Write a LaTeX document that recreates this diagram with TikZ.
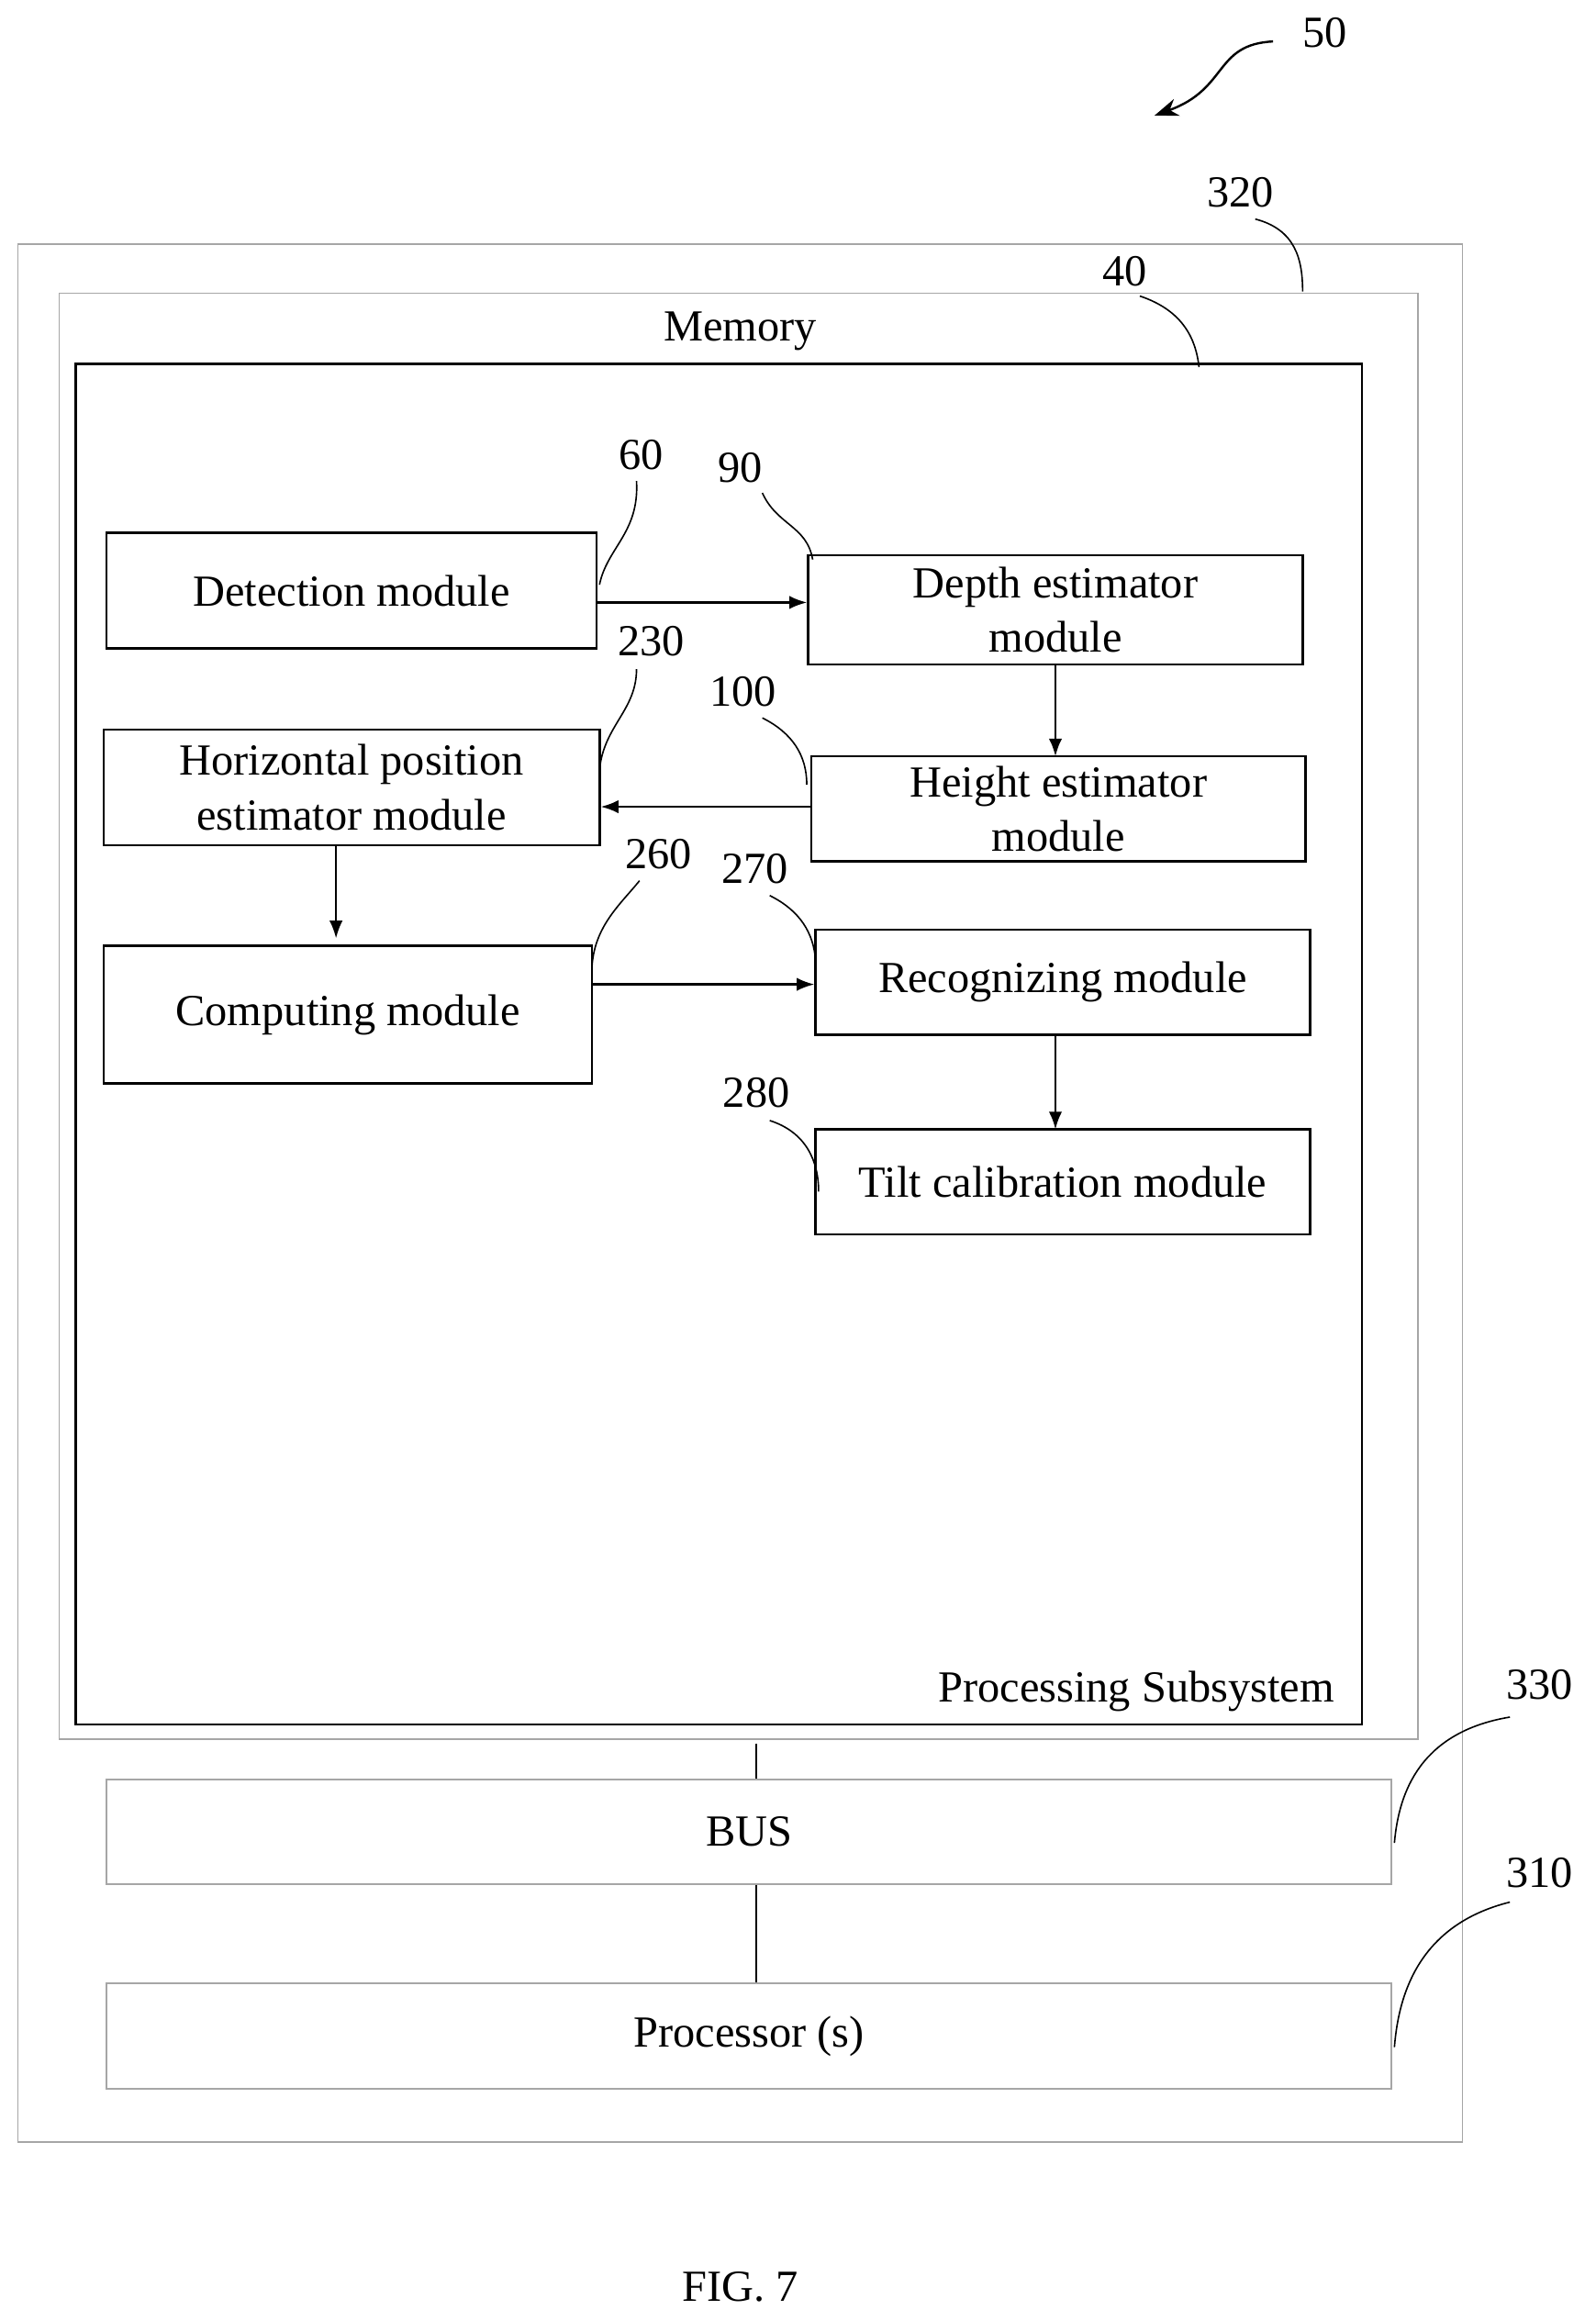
\documentclass[tikz,border=0pt]{standalone}
\usepackage{fontspec}
\setmainfont{Liberation Serif}
\usetikzlibrary{arrows.meta}
\begin{document}
\begin{tikzpicture}[x=1pt,y=-1pt,
 mod/.style={draw,line width=1.6pt,align=center,font=\fontsize{30}{37}\selectfont,inner sep=0pt},
 gbox/.style={draw=gray!70,line width=1pt,inner sep=0pt,font=\fontsize{30}{37}\selectfont},
 arr/.style={-{Latex[length=12pt,width=9pt]},line width=1.6pt},
 lead/.style={line width=1pt},
 lab/.style={font=\fontsize{30}{36}\selectfont}]
\useasboundingbox (0,0) rectangle (1078,1568);
\newcommand\bx[7]{\node[#1,minimum width={#5-#3},minimum height={#6-#4}] (#2) at ({(#3+#5)/2},{(#4+#6)/2}) {#7};}
\bx{gbox}{sys}{12}{165}{988}{1447}{}
\bx{gbox}{mem}{40}{198}{958}{1175}{}
\bx{mod}{ps}{51}{246}{920}{1165}{}
\node[lab] (memt) at (500,224) {Memory};
\node[lab,anchor=south east] (pst) at (905,1160) {Processing Subsystem};
\bx{mod}{det}{72}{360}{403}{438}{Detection module}
\bx{mod}{dep}{546}{375}{880}{449}{Depth estimator\\module}
\bx{mod}{hor}{70}{493}{405}{571}{Horizontal position\\estimator module}
\bx{mod}{hei}{548}{511}{882}{582}{Height estimator\\module}
\bx{mod}{com}{70}{639}{400}{732}{Computing module}
\bx{mod}{rec}{551}{628}{885}{699}{Recognizing module}
\bx{mod}{til}{551}{763}{885}{834}{Tilt calibration module}
\bx{gbox}{bus}{72}{1202}{940}{1273}{BUS}
\bx{gbox}{pro}{72}{1340}{940}{1411}{Processor (s)}
\draw[arr] (det.east|-0,407) -- (dep.west|-0,407);
\draw[arr] (713,449) -- (713,511);
\draw[arr] (hei.west|-0,545) -- (hor.east|-0,545);
\draw[arr] (227,571) -- (227,634);
\draw[arr] (com.east|-0,665) -- (rec.west|-0,665);
\draw[arr] (713,699) -- (713,763);
\draw[lead] (511,1178) -- (bus.north-|511,0);
\draw[lead] (bus.south-|511,0) -- (pro.north-|511,0);
\node[lab] (l50) at (895,22) {50};
\coordinate (a50) at (780,78);
\draw[-{Stealth[length=16pt,width=12pt]},line width=1.5pt] (860,28) .. controls (820,30) and (830,60) .. (a50);
\node[lab] (l320) at (838,130) {320};
\draw[lead] (848,148) .. controls (875,155) and (880,175) .. (880,197);
\node[lab] (l40) at (760,183) {40};
\draw[lead] (770,200) .. controls (800,210) and (808,230) .. (810,248);
\node[lab] (l60) at (433,307) {60};
\draw[lead] (430,325) .. controls (432,360) and (410,370) .. (405,395);
\node[lab] (l90) at (500,316) {90};
\draw[lead] (515,333) .. controls (525,355) and (545,355) .. (549,378);
\node[lab] (l230) at (440,433) {230};
\draw[lead] (430,452) .. controls (430,480) and (408,490) .. (405,520);
\node[lab] (l100) at (502,467) {100};
\draw[lead] (515,485) .. controls (535,495) and (545,510) .. (545,530);
\node[lab] (l260) at (445,577) {260};
\draw[lead] (432,595) .. controls (420,610) and (402,625) .. (400,652);
\node[lab] (l270) at (510,587) {270};
\draw[lead] (520,605) .. controls (540,615) and (550,630) .. (551,650);
\node[lab] (l280) at (511,738) {280};
\draw[lead] (520,757) .. controls (545,765) and (553,785) .. (553,805);
\node[lab] (l330) at (1040,1138) {330};
\draw[lead] (1020,1160) .. controls (960,1170) and (945,1210) .. (942,1245);
\node[lab] (l310) at (1040,1265) {310};
\draw[lead] (1020,1285) .. controls (960,1300) and (945,1345) .. (942,1383);
\node[lab] (fig) at (500,1545) {FIG. 7};
\end{tikzpicture}
\end{document}
